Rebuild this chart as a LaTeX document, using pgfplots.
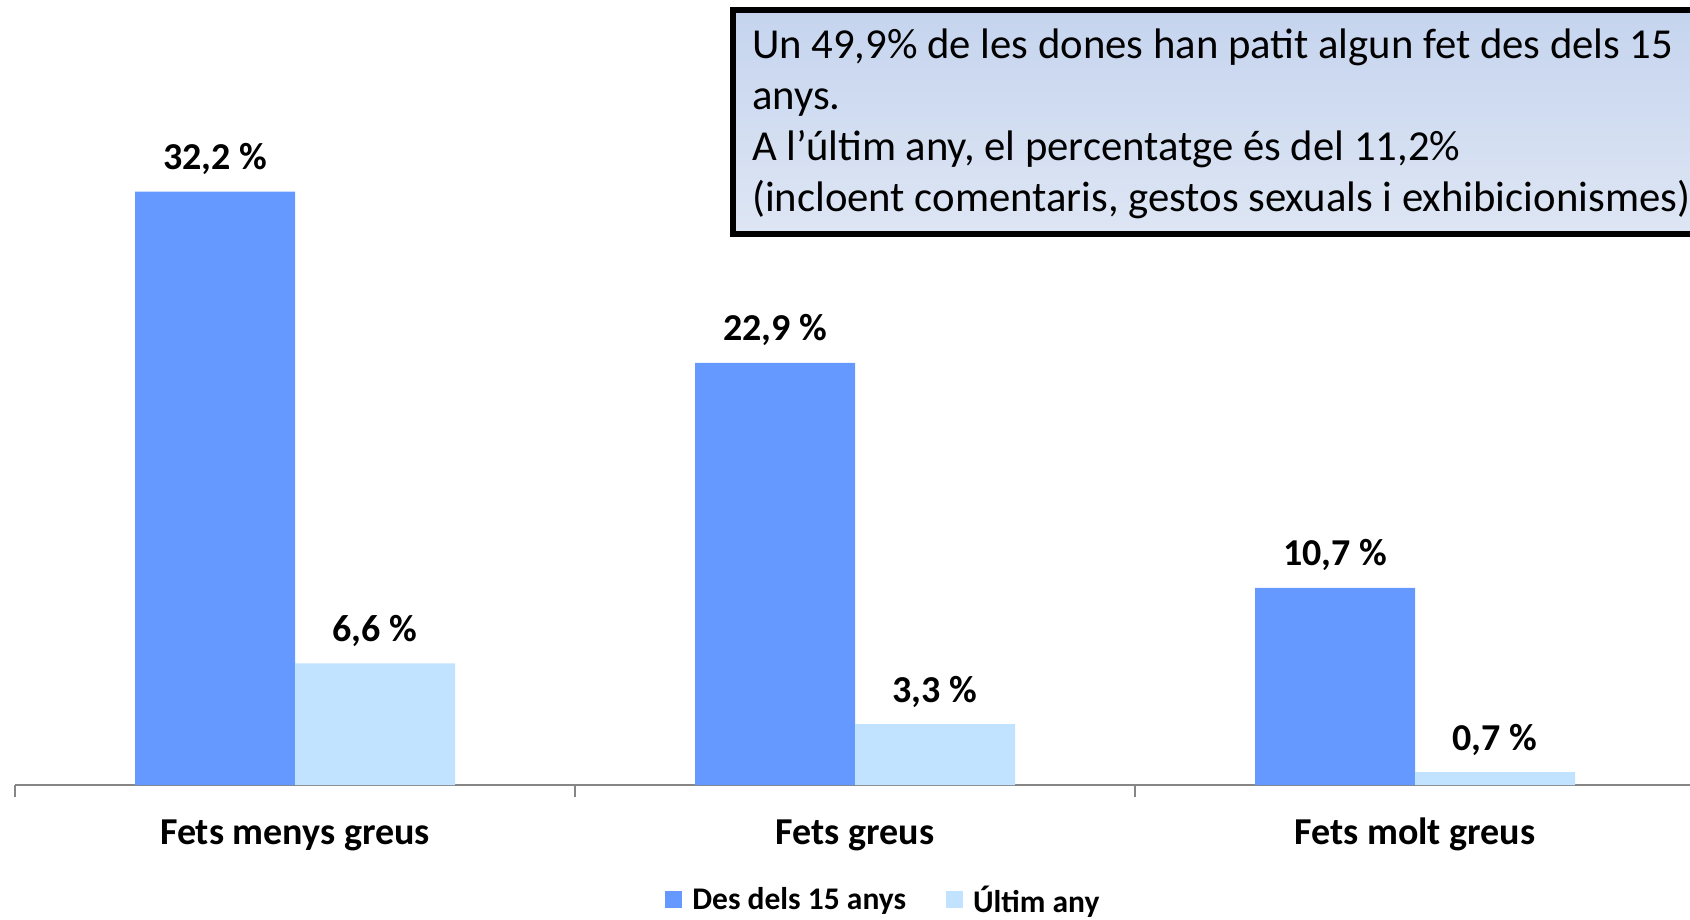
\documentclass[border=0pt]{standalone}
\usepackage{pgfplots}
\pgfplotsset{compat=1.18}
\usepackage{fontspec}
\setmainfont{Carlito}
\definecolor{desdels}{RGB}{102,153,255}
\definecolor{ultim}{RGB}{193,227,255}
\definecolor{axgray}{RGB}{134,134,134}
\definecolor{boxtop}{RGB}{197,212,238}
\definecolor{boxbot}{RGB}{222,230,244}
\begin{document}
\begin{tikzpicture}
\clip (0,0) rectangle (1690pt,919pt);
\begin{axis}[
    at={(15pt,134pt)}, anchor=south west,
    scale only axis,
    width=1680pt, height=774pt,
    xmin=-0.5, xmax=2.5,
    ymin=0, ymax=42,
    axis x line*=bottom,
    hide y axis,
    x axis line style={axgray, line width=2pt},
    xtick={-0.5,0.5,1.5,2.5},
    xticklabels={},
    tick align=outside,
    major tick length=12pt,
    xtick style={axgray, line width=2pt},
    extra x ticks={0,1,2},
    extra x tick labels={Fets menys greus,Fets greus,Fets molt greus},
    extra x tick style={major tick length=0pt,
        xticklabel style={anchor=base, yshift=-59pt, font=\fontsize{38}{46}\selectfont\bfseries}},
    ybar, bar width=160pt,
    nodes near coords,
    point meta=explicit symbolic,
    every node near coord/.append style={anchor=base, yshift=22pt,
        font=\fontsize{38}{46}\selectfont\bfseries, black},
    legend columns=2,
    legend style={at={(axis description cs:0.387,-0.1480)}, anchor=west,
        draw=none, fill=none, inner sep=0pt,
        font=\fontsize{31.5}{38}\selectfont\bfseries,
        /tikz/every odd column/.append style={column sep=8pt},
        /tikz/every even column/.append style={column sep=38pt}},
    legend image code/.code={\fill[#1] (0pt,-8pt) rectangle (17pt,9pt);},
]
\addplot[fill=desdels, draw=none, bar shift=-80pt] coordinates {
    (0,32.2) [32,2 \%]
    (1,22.9) [22,9 \%]
    (2,10.7) [10,7 \%]
};
\addplot[fill=ultim, draw=none, bar shift=80pt] coordinates {
    (0,6.6) [6,6 \%]
    (1,3.3) [3,3 \%]
    (2,0.7) [0,7 \%]
};
\legend{Des dels 15 anys, Últim any}
\end{axis}
\draw[line width=6pt, top color=boxtop, bottom color=boxbot]
    (733pt,909pt) rectangle (1720pt,685pt);
\node[anchor=base west, inner sep=0pt, align=left,
      font=\fontsize{42.7}{51}\selectfont] at (752pt,707pt)
    {Un 49,9\% de les dones han patit algun fet des dels 15\\
     anys.\\
     A l’últim any, el percentatge és del 11,2\%\\
     (incloent comentaris, gestos sexuals i exhibicionismes)};
\end{tikzpicture}
\end{document}
